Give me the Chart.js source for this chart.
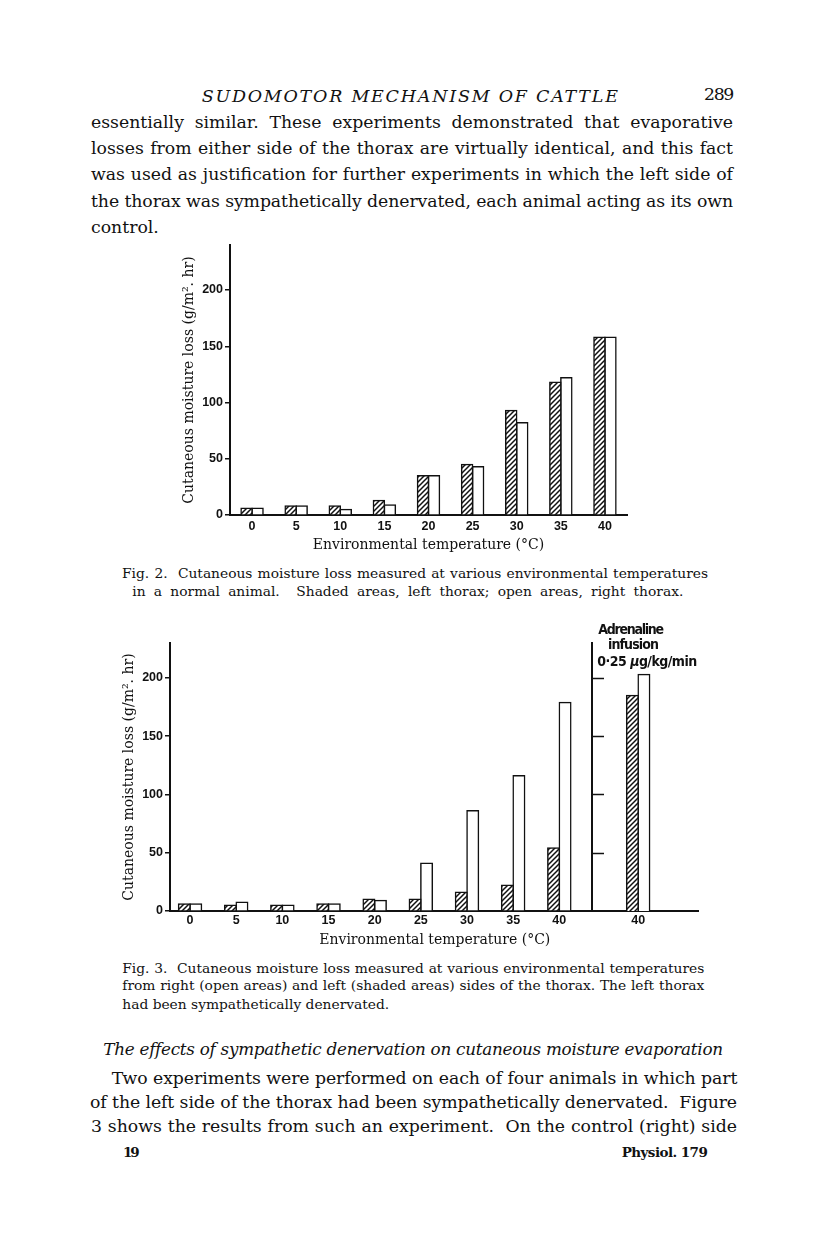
<!DOCTYPE html>
<html>
<head>
<meta charset="utf-8">
<script src="https://cdn.jsdelivr.net/npm/chart.js"></script>
<style>
  body { margin: 0; background: #fff; }
  #page { position: relative; width: 816px; height: 1249px; overflow: hidden; color: #111; font-family: "DejaVu Serif", serif; }
  .box { position: absolute; }
  .ln { position: absolute; white-space: nowrap; }
  .body { font-size: 17.3px; line-height: 20px; }
  .hd { font-size: 17.5px; line-height: 20px; font-style: italic; }
  .sec { font-size: 16.8px; line-height: 20px; font-style: italic; }
  .cap { font-size: 13.8px; line-height: 16px; }
  .ft { font-size: 13.5px; line-height: 16px; font-weight: bold; }
  .ttl { font-size: 14px; line-height: 16px; }
  .ann { font-family: "Liberation Sans Narrow", "DejaVu Sans Condensed", "Liberation Sans", sans-serif; font-weight: bold; font-size: 14px; line-height: 16px; }
</style>
</head>
<body>
<div id="page">
  <div class="box" style="left:180px;top:225px;width:451px;height:332px"><canvas id="fig2"></canvas></div>
  <div class="box" style="left:120px;top:623px;width:472px;height:310px"><canvas id="fig3a"></canvas></div>
  <div class="box" style="left:588px;top:623px;width:114px;height:310px"><canvas id="fig3b"></canvas></div>
</div>
<script>
// --- data (g/m2.hr) ---
const temps = [0, 5, 10, 15, 20, 25, 30, 35, 40];
const yTicks = [0, 50, 100, 150, 200];

// Fig. 2: normal animal, shaded = left thorax, open = right thorax
const fig2Shaded = [6, 8, 8, 13, 35, 45, 93, 118, 158];
const fig2Open   = [6, 8, 5, 9, 35, 43, 82, 122, 158];

// Fig. 3: left side denervated
const fig3Shaded = [6, 5, 5, 6, 10, 10, 16, 22, 54];
const fig3Open   = [6, 7.5, 5, 6, 9, 41, 86, 116, 179];

// Fig. 3, adrenaline infusion panel
const adrTemps  = [40];
const adrShaded = [185];
const adrOpen   = [203];

const yTitle = 'Cutaneous moisture loss (g/m². hr)';
const xTitle = 'Environmental temperature (°C)';

// diagonal hatching for the shaded bars
function hatch(){
  const s = 5, c = document.createElement('canvas');
  c.width = s; c.height = s;
  const g = c.getContext('2d');
  g.fillStyle = '#fff'; g.fillRect(0, 0, s, s);
  g.strokeStyle = '#111'; g.lineWidth = 1.5;
  g.beginPath();
  g.moveTo(0, s); g.lineTo(s, 0);
  g.moveTo(-1, 1); g.lineTo(1, -1);
  g.moveTo(s - 1, s + 1); g.lineTo(s + 1, s - 1);
  g.stroke();
  return g.createPattern(c, 'repeat');
}
const HATCH = hatch();

const tickFont = { family: '"Liberation Sans", Arial, sans-serif', weight: 'bold', size: 12.5 };
const titleFont = { family: '"DejaVu Serif", serif', size: 14 };

function pairs(xs, ys){ return xs.map((x, i) => ({ x: x, y: ys[i] })); }

function bars(xs, shaded, open, thick){
  return [
    { data: pairs(xs, shaded), backgroundColor: HATCH, borderColor: '#111', borderWidth: 1.5, barThickness: thick, inflateAmount: 0.75 },
    { data: pairs(xs, open), backgroundColor: '#fff', borderColor: '#111', borderWidth: 1.5, barThickness: thick, inflateAmount: 0.75 }
  ];
}

function options(c){
  return {
    responsive: true, maintainAspectRatio: false, animation: false, devicePixelRatio: 1,
    layout: { padding: c.pad },
    plugins: { legend: { display: false }, tooltip: { enabled: false } },
    scales: {
      x: {
        type: 'linear', min: c.xmin, max: c.xmax, offset: false, z: 1,
        afterBuildTicks: s => { s.ticks = c.xticks.map(v => ({ value: v })); },
        afterFit: s => { s.height = c.xh; },
        grid: { display: false, drawTicks: false, offset: false },
        border: { display: true, color: '#111', width: 2 },
        ticks: { color: '#111', padding: c.xpad, font: tickFont, maxRotation: 0, autoSkip: false, callback: v => String(v) },
        title: c.xtitle ? { display: true, text: xTitle, color: '#111', font: titleFont, padding: { top: 0, bottom: 3 } } : { display: false }
      },
      y: {
        min: 0, max: c.ymax,
        afterBuildTicks: s => { s.ticks = yTicks.map(v => ({ value: v })); },
        afterFit: s => { s.width = c.yw; },
        grid: { display: c.ylabels, drawOnChartArea: false, drawTicks: true, tickLength: 5, color: '#111', lineWidth: 1.5 },
        border: { display: true, color: '#111', width: 2 },
        ticks: { display: c.ylabels, color: '#111', padding: 2, font: tickFont, callback: v => String(v) },
        title: c.ylabels ? { display: true, text: yTitle, color: '#111', font: titleFont, padding: { top: 1, bottom: 0 } } : { display: false }
      }
    }
  };
}

// short inward ticks on the separator line of the adrenaline panel
const innerTicks = {
  id: 'innerTicks',
  afterDraw(chart){
    const y = chart.scales.y, ctx = chart.ctx, x0 = chart.chartArea.left;
    ctx.save();
    ctx.strokeStyle = '#111'; ctx.lineWidth = 1.5;
    yTicks.filter(v => v > 0).forEach(v => {
      const py = Math.round(y.getPixelForValue(v)) + 0.5;
      ctx.beginPath(); ctx.moveTo(x0, py); ctx.lineTo(x0 + 12, py); ctx.stroke();
    });
    ctx.restore();
  }
};

new Chart(document.getElementById('fig2'), {
  type: 'bar',
  data: { datasets: bars(temps, fig2Shaded, fig2Open, 11) },
  options: options({ pad: { top: 20, right: 4, left: 0, bottom: 0 }, xmin: -2.5, xmax: 42.5, xticks: temps, xh: 42, xpad: 4, xtitle: true, ymax: 240, yw: 50, ylabels: true })
});

new Chart(document.getElementById('fig3a'), {
  type: 'bar',
  data: { datasets: bars(temps, fig3Shaded, fig3Open, 11.5) },
  options: options({ pad: { top: 20, right: 0, left: 0, bottom: 0 }, xmin: -2.17, xmax: 43.54, xticks: temps, xh: 22, xpad: 2, xtitle: false, ymax: 230, yw: 50, ylabels: true })
});

new Chart(document.getElementById('fig3b'), {
  type: 'bar',
  data: { datasets: bars(adrTemps, adrShaded, adrOpen, 11.5) },
  options: options({ pad: { top: 20, right: 4, left: 4, bottom: 0 }, xmin: 35, xmax: 46.48, xticks: adrTemps, xh: 22, xpad: 2, xtitle: false, ymax: 230, yw: 0, ylabels: false }),
  plugins: [innerTicks]
});

// --- page text: [text, left, centre y, fitted width, class, letter-spacing fit] ---
const lines = [
  ['SUDOMOTOR MECHANISM OF CATTLE', 201.7, 95.5, 418, 'hd', true],
  ['289', 704, 95.5, 29, 'body', true],
  ['essentially similar. These experiments demonstrated that evaporative', 91, 123, 642, 'body'],
  ['losses from either side of the thorax are virtually identical, and this fact', 91, 149.3, 642, 'body'],
  ['was used as justification for further experiments in which the left side of', 91, 175.6, 642, 'body'],
  ['the thorax was sympathetically denervated, each animal acting as its own', 91, 201.9, 642, 'body'],
  ['control.', 91, 228.2, 0, 'body'],
  ['Fig. 2.&nbsp; Cutaneous moisture loss measured at various environmental temperatures', 122, 574, 586, 'cap'],
  ['in a normal animal.&nbsp; Shaded areas, left thorax; open areas, right thorax.', 132.3, 592, 551, 'cap'],
  ['Adrenaline', 598.3, 629, 64.4, 'ann', true],
  ['infusion', 608, 644, 50, 'ann', true],
  ['0·25 <i>μ</i>g/kg/min', 597.3, 661, 99.4, 'ann', true],
  [xTitle, 319.3, 939, 231, 'ttl', true],
  ['Fig. 3.&nbsp; Cutaneous moisture loss measured at various environmental temperatures', 122.3, 968.5, 582, 'cap'],
  ['from right (open areas) and left (shaded areas) sides of the thorax. The left thorax', 122.3, 986, 582, 'cap'],
  ['had been sympathetically denervated.', 122.3, 1004.5, 0, 'cap'],
  ['The effects of sympathetic denervation on cutaneous moisture evaporation', 103.3, 1050, 619, 'sec'],
  ['Two experiments were performed on each of four animals in which part', 111.7, 1079.5, 625.6, 'body'],
  ['of the left side of the thorax had been sympathetically denervated.&nbsp; Figure', 90, 1103, 647, 'body'],
  ['3 shows the results from such an experiment.&nbsp; On the control (right) side', 91, 1127, 646, 'body'],
  ['19', 123, 1152, 14.7, 'ft', true],
  ['Physiol. 179', 621.7, 1152, 85.6, 'ft', true]
];
const centreOff = { body: 11.4, hd: 9.7, sec: 11, cap: 8.8, ft: 7.8, ttl: 8.5, ann: 8 };

const page = document.getElementById('page');
lines.forEach(([t, x, yc, w, cls, byLetter]) => {
  const d = document.createElement('div');
  d.className = 'ln ' + cls;
  d.innerHTML = t;
  d.style.left = x + 'px';
  d.style.top = (yc - centreOff[cls]) + 'px';
  page.appendChild(d);
  if (!w) return;
  const nat = d.getBoundingClientRect().width;
  const diff = w - nat;
  const txt = d.textContent;
  const spaces = (txt.match(/[ \u00a0]/g) || []).length;
  if (!byLetter && spaces && diff > 0) d.style.wordSpacing = (diff / spaces) + 'px';
  else d.style.letterSpacing = (diff / txt.length) + 'px';
});
</script>
</body>
</html>
